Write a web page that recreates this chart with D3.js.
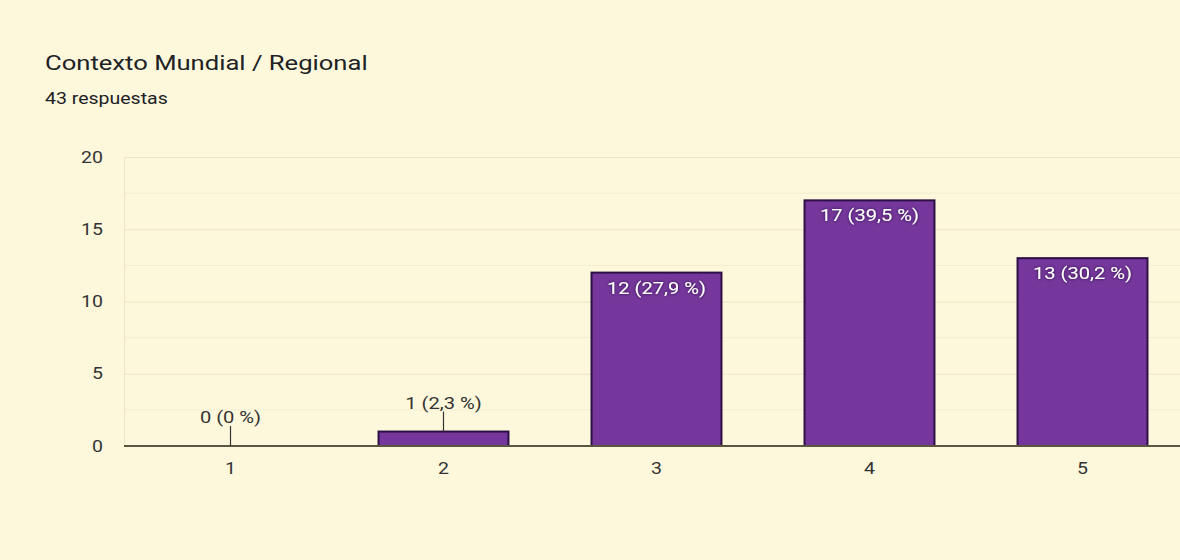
<!DOCTYPE html>
<html>
<head>
<meta charset="utf-8">
<script src="https://cdn.jsdelivr.net/npm/d3@7"></script>
<style>
  body { margin: 0; background: #fdf8dc; }
  text { font-family: Roboto, "Liberation Sans", Arial, sans-serif; }
</style>
</head>
<body>
<div id="chart"></div>
<script>
var categories = ["1", "2", "3", "4", "5"];
var counts = [0, 1, 12, 17, 13];
var percentLabels = ["0 %", "2,3 %", "27,9 %", "39,5 %", "30,2 %"];
var yTicks = [0, 5, 10, 15, 20];
var minorTicks = [2.5, 7.5, 12.5, 17.5];

var svgWidth = 1180;
var svgHeight = 560;

// the reference screenshot is stretched sideways a bit, so text is too
var sx = 1.22;

var margin = { top: 157, right: 0, bottom: 114, left: 124 };
var chartWidth = svgWidth - margin.left - margin.right;
var chartHeight = svgHeight - margin.top - margin.bottom;

var svg = d3.select("#chart")
  .append("svg")
  .attr("width", svgWidth)
  .attr("height", svgHeight);

svg.append("rect")
  .attr("width", svgWidth)
  .attr("height", svgHeight)
  .attr("fill", "#fdf8dc");

var defs = svg.append("defs");
var shadow = defs.append("filter").attr("id", "shadow")
  .attr("x", "-20%").attr("y", "-50%").attr("width", "140%").attr("height", "200%");
shadow.append("feDropShadow")
  .attr("dx", 0).attr("dy", 0).attr("stdDeviation", 1.5)
  .attr("flood-color", "#1a0630").attr("flood-opacity", 0.9);

function addText(parent, x, y, size, anchor) {
  return parent.append("text")
    .attr("transform", `translate(${x},${y}) scale(${sx},1)`)
    .attr("font-size", size)
    .attr("text-anchor", anchor);
}

addText(svg, 45, 70, 21, "start")
  .attr("fill", "#202124")
  .text("Contexto Mundial / Regional");

addText(svg, 45, 104, 16, "start")
  .attr("fill", "#202124")
  .text("43 respuestas");

var chartGroup = svg.append("g")
  .attr("transform", `translate(${margin.left}, ${margin.top})`);

// band step ~213px, bars ~130px wide
var xBandScale = d3.scaleBand()
  .domain(categories)
  .range([0, 1065])
  .paddingInner(0.39)
  .paddingOuter(0.195);

var yLinearScale = d3.scaleLinear()
  .domain([0, 20])
  .range([chartHeight, 0]);

// minor gridlines
chartGroup.selectAll(".minor")
  .data(minorTicks)
  .enter()
  .append("line")
  .attr("x1", 0)
  .attr("x2", chartWidth)
  .attr("y1", d => yLinearScale(d))
  .attr("y2", d => yLinearScale(d))
  .attr("stroke", "#f2ecd0")
  .attr("stroke-width", 1);

// major gridlines + left tick labels
var leftAxis = d3.axisLeft(yLinearScale)
  .tickValues(yTicks)
  .tickSize(-chartWidth)
  .tickPadding(21);

var yAxisG = chartGroup.append("g").call(leftAxis);
yAxisG.select(".domain").remove();
yAxisG.selectAll(".tick line")
  .attr("stroke", "#ebe4c6");
yAxisG.selectAll(".tick text")
  .attr("x", -21 / sx)
  .attr("transform", `scale(${sx},1)`)
  .attr("font-size", 16)
  .attr("fill", "#333");

// left edge line
chartGroup.append("line")
  .attr("x1", 0.5).attr("x2", 0.5)
  .attr("y1", 0).attr("y2", chartHeight)
  .attr("stroke", "#ebe4c6");

// bars
chartGroup.selectAll(".bar")
  .data(counts)
  .enter()
  .append("rect")
  .attr("class", "bar")
  .attr("x", (d, i) => xBandScale(categories[i]))
  .attr("y", d => yLinearScale(d))
  .attr("width", xBandScale.bandwidth())
  .attr("height", d => chartHeight - yLinearScale(d))
  .attr("fill", d => d > 0 ? "#75379b" : "none")
  .attr("stroke", d => d > 0 ? "#2e0f45" : "none")
  .attr("stroke-width", 2);

// x axis
var bottomAxis = d3.axisBottom(xBandScale).tickSize(0).tickPadding(17);
var xAxisG = chartGroup.append("g")
  .attr("transform", "translate(0," + chartHeight + ")")
  .call(bottomAxis);
xAxisG.select(".domain").remove();
xAxisG.selectAll(".tick text")
  .attr("transform", `scale(${sx},1)`)
  .attr("font-size", 16)
  .attr("fill", "#333");

chartGroup.append("line")
  .attr("x1", 0).attr("x2", chartWidth)
  .attr("y1", chartHeight).attr("y2", chartHeight)
  .attr("stroke", "#5a5540")
  .attr("stroke-width", 2);

// labels
counts.forEach(function(d, i) {
  var cx = xBandScale(categories[i]) + xBandScale.bandwidth() / 2;
  var label = d + " (" + percentLabels[i] + ")";
  var top = yLinearScale(d);
  if (d >= 3) {
    addText(chartGroup, cx, top + 21, 16.5, "middle")
      .attr("fill", "#ffffff")
      .attr("filter", "url(#shadow)")
      .text(label);
  } else {
    chartGroup.append("line")
      .attr("x1", cx).attr("x2", cx)
      .attr("y1", top - 20).attr("y2", top)
      .attr("stroke", "#333")
      .attr("stroke-width", 1.2);
    addText(chartGroup, cx, top - 23, 16.5, "middle")
      .attr("fill", "#333")
      .text(label);
  }
});
</script>
</body>
</html>
